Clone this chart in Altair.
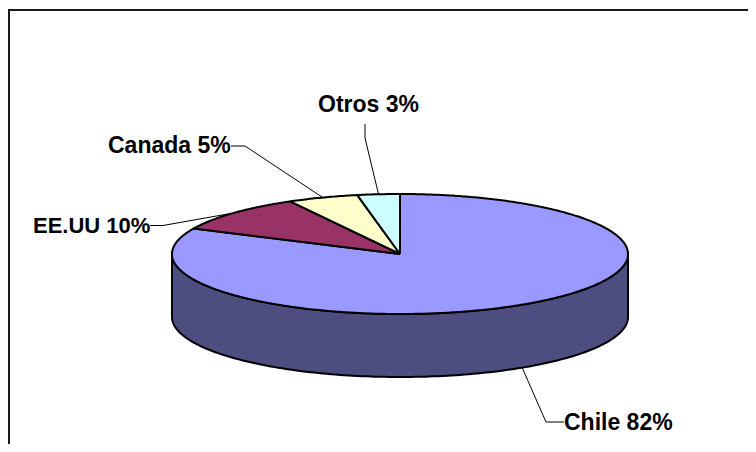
import numpy as np
import pandas as pd
import altair as alt

categories = ["Chile", "EE.UU", "Canada", "Otros"]
shares = [82, 10, 5, 3]
slice_colors = ["#9999FF", "#993366", "#FFFFCC", "#CCFFFF"]
labels = ["Chile 82%", "EE.UU 10%", "Canada 5%", "Otros 3%"]
label_x = [564, 33, 108, 318]
label_y = [423, 226, 146, 105]
label_size = [23, 22, 23, 23]
elbow_a_x = [564, 150, 231, 365]
elbow_a_y = [422, 225.5, 146, 124]
elbow_b_x = [546, 163, 245, 365]
elbow_b_y = [422, 225.5, 146, 138]
wall_color = "#4D4D80"

CX, CY, RX, RY, DEPTH = 400, 254, 228, 60, 63
W, H = 740, 436
x_scale = alt.Scale(domain=[8, 8 + W], range=[0, W])
y_scale = alt.Scale(domain=[8, 8 + H], range=[0, H])
X = alt.X("x:Q", scale=x_scale, axis=None)
Y = alt.Y("y:Q", scale=y_scale, axis=None)


def rim(t):
    # t is the clockwise angle from the top of the pie
    return CX + RX * np.sin(t), CY - RY * np.cos(t)


def poly(xs, ys):
    return pd.DataFrame({"x": xs, "y": ys, "i": np.arange(len(xs))})


def outline(df, fill):
    return (
        alt.Chart(df)
        .mark_line(fill=fill, stroke="#000000", strokeWidth=2, strokeJoin="round", clip=False)
        .encode(x=X, y=Y, order="i:Q")
    )


layers = []

# frame (left and top edges)
frame = poly([9, 9, 8 + W], [8 + H, 10, 10])
layers.append(
    alt.Chart(frame).mark_line(stroke="#1a1a1a", strokeWidth=2).encode(x=X, y=Y, order="i:Q")
)

# side wall
t_wall = np.linspace(np.pi / 2, 3 * np.pi / 2, 160)
wx, wy = rim(t_wall)
wall = poly(
    np.concatenate([wx, wx[::-1], wx[:1]]),
    np.concatenate([wy, wy[::-1] + DEPTH, wy[:1]]),
)
layers.append(outline(wall, wall_color))

# top slices, clockwise from twelve o'clock
cum = np.concatenate([[0], np.cumsum(shares)]) / 100 * 2 * np.pi
mids = []
for k, color in enumerate(slice_colors):
    t = np.linspace(cum[k], cum[k + 1], max(8, int(shares[k] * 6)))
    mids.append((cum[k] + cum[k + 1]) / 2)
    sx, sy = rim(t)
    df = poly(
        np.concatenate([[CX], sx, [CX]]),
        np.concatenate([[CY], sy, [CY]]),
    )
    layers.append(outline(df, color))

# leader lines
for k in range(len(categories)):
    mx, my = rim(np.array(mids[k]))
    if np.cos(mids[k]) < 0:
        my = my + DEPTH
    df = poly([elbow_a_x[k], elbow_b_x[k], mx], [elbow_a_y[k], elbow_b_y[k], my])
    layers.append(
        alt.Chart(df).mark_line(stroke="#000000", strokeWidth=1).encode(x=X, y=Y, order="i:Q")
    )

# labels
for k in range(len(labels)):
    text_df = pd.DataFrame({"x": [label_x[k]], "y": [label_y[k]], "t": [labels[k]]})
    layers.append(
        alt.Chart(text_df)
        .mark_text(
            font="Liberation Sans", fontWeight="bold", fontSize=label_size[k], align="left",
            baseline="middle", color="#000000",
        )
        .encode(x=X, y=Y, text="t:N")
    )

chart = (
    alt.layer(*layers)
    .properties(width=W, height=H, padding=0, background="#FFFFFF", autosize=alt.AutoSizeParams(type="none"))
    .configure_view(stroke=None)
)
chart.save("out.html", embed_options={"renderer": "svg", "actions": False})
